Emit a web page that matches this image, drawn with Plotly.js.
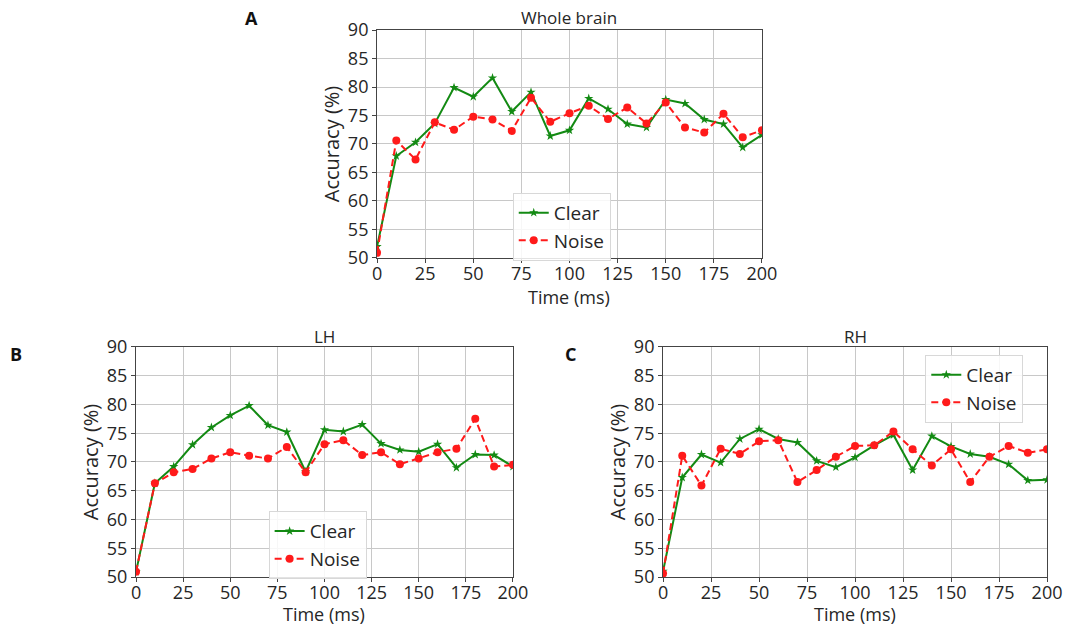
<!DOCTYPE html>
<html>
<head>
<meta charset="utf-8">
<script src="https://cdn.plot.ly/plotly-3.0.1.min.js"></script>
<style>html,body{margin:0;padding:0;background:#fff;}</style>
</head>
<body>
<div id="chart" style="width:1066px;height:628px;"></div>
<script>
const time = [0,10,20,30,40,50,60,70,80,90,100,110,120,130,140,150,160,170,180,190,200];

const wholeClear = [52,67.9,70.3,73.6,79.9,78.3,81.6,75.7,79.1,71.4,72.4,78.0,76.1,73.5,72.9,77.8,77.1,74.3,73.5,69.4,71.6];
const wholeNoise = [50.9,70.6,67.3,73.8,72.5,74.8,74.3,72.3,78.1,73.9,75.4,76.7,74.4,76.4,73.6,77.3,72.9,72.0,75.3,71.2,72.4];

const lhClear = [50.9,66.3,69.2,73.0,76.0,78.1,79.8,76.4,75.2,68.3,75.6,75.3,76.5,73.2,72.1,71.8,73.1,69.0,71.3,71.2,69.2];
const lhNoise = [50.9,66.3,68.2,68.8,70.6,71.7,71.1,70.6,72.6,68.2,73.1,73.8,71.2,71.7,69.6,70.6,71.7,72.3,77.5,69.2,69.5];

const rhClear = [51,67.3,71.3,69.9,74.0,75.7,74.0,73.4,70.2,69.1,70.8,72.9,74.7,68.6,74.5,72.7,71.4,70.9,69.6,66.8,66.9];
const rhNoise = [50.6,71.1,65.9,72.3,71.4,73.6,73.8,66.5,68.6,70.9,72.8,72.9,75.3,72.2,69.4,72.2,66.5,70.9,72.8,71.6,72.2];

const seriesNames = ['Clear','Noise'];
const panelTitles = ['Whole brain','LH','RH'];
const panelLetters = ['A','B','C'];
const xTitle = 'Time (ms)';
const yTitle = 'Accuracy (%)';

const green = '#138a13';
const red = '#ff1a1a';
const font = 'Open Sans, Noto Sans, sans-serif';
const txt = '#262626';

function clearTrace(y, xa, ya, lg) {
  return {x: time, y: y, xaxis: xa, yaxis: ya, legend: lg, name: seriesNames[0],
    mode: 'lines+markers', line: {color: green, width: 2},
    marker: {symbol: 'star', size: 7, color: green}};
}
function noiseTrace(y, xa, ya, lg) {
  return {x: time, y: y, xaxis: xa, yaxis: ya, legend: lg, name: seriesNames[1],
    mode: 'lines+markers', line: {color: red, width: 2, dash: '7px,4px'},
    marker: {symbol: 'circle', size: 8, color: red}};
}

const data = [
  clearTrace(wholeClear, 'x', 'y', 'legend'),
  noiseTrace(wholeNoise, 'x', 'y', 'legend'),
  clearTrace(lhClear, 'x2', 'y2', 'legend2'),
  noiseTrace(lhNoise, 'x2', 'y2', 'legend2'),
  clearTrace(rhClear, 'x3', 'y3', 'legend3'),
  noiseTrace(rhNoise, 'x3', 'y3', 'legend3')
];

function xaxis(domain, anchor) {
  return {domain: domain, anchor: anchor, range: [0,200], dtick: 25, tick0: 0,
    showgrid: true, gridcolor: '#c8c8c8', gridwidth: 1,
    showline: true, linecolor: '#444', linewidth: 1, mirror: true,
    ticks: 'outside', ticklen: 4, tickcolor: '#444', ticklabelstandoff: -5,
    tickfont: {family: font, size: 18, color: txt},
    zeroline: false, fixedrange: true};
}
function yaxis(domain, anchor) {
  return {domain: domain, anchor: anchor, range: [50,90], dtick: 5, tick0: 50,
    showgrid: true, gridcolor: '#c8c8c8', gridwidth: 1,
    showline: true, linecolor: '#444', linewidth: 1, mirror: true,
    ticks: 'outside', ticklen: 4, tickcolor: '#444',
    tickfont: {family: font, size: 18, color: txt},
    title: {text: yTitle, font: {family: font, size: 20, color: txt}, standoff: 2},
    zeroline: false, fixedrange: true};
}

function legendCfg(x, y) {
  return {x: x, y: y, xanchor: 'left', yanchor: 'top', xref: 'paper', yref: 'paper',
    bgcolor: 'rgba(255,255,255,0.85)', bordercolor: '#d8d8d8', borderwidth: 1,
    font: {family: font, size: 19, color: txt}, tracegroupgap: 0};
}

function textAnn(text, x, y, size, anchorY) {
  return {text: text, xref: 'paper', yref: 'paper', x: x, y: y, xanchor: 'center', yanchor: anchorY,
    showarrow: false, font: {family: font, size: size, color: txt}};
}

const layout = {
  width: 1066, height: 628,
  margin: {l: 0, r: 0, t: 0, b: 0},
  paper_bgcolor: '#fff', plot_bgcolor: '#fff',
  showlegend: true,
  xaxis: xaxis([0.3537, 0.7148], 'y'),
  yaxis: yaxis([0.5892, 0.9522], 'x'),
  xaxis2: xaxis([0.1276, 0.4812], 'y2'),
  yaxis2: yaxis([0.0812, 0.4475], 'x2'),
  xaxis3: xaxis([0.6220, 0.9822], 'y3'),
  yaxis3: yaxis([0.0812, 0.4475], 'x3'),
  legend: legendCfg(0.481, 0.693),
  legend2: legendCfg(0.252, 0.186),
  legend3: legendCfg(0.868, 0.435),
  annotations: [
    textAnn(panelTitles[0], 0.5342, 1 - 18/628, 17, 'middle'),
    textAnn(panelTitles[1], 0.3044, 1 - 336/628, 17, 'middle'),
    textAnn(panelTitles[2], 0.8021, 1 - 336/628, 17, 'middle'),
    textAnn(xTitle, 0.5342, 1 - 297/628, 18, 'middle'),
    textAnn(xTitle, 0.3044, 1 - 614/628, 18, 'middle'),
    textAnn(xTitle, 0.8021, 1 - 614/628, 18, 'middle'),
    {text: '<b>' + panelLetters[0] + '</b>', xref: 'paper', yref: 'paper', x: 251/1066, y: 1 - 18/628, xanchor: 'center', yanchor: 'middle', showarrow: false, font: {family: font, size: 18, color: '#111'}},
    {text: '<b>' + panelLetters[1] + '</b>', xref: 'paper', yref: 'paper', x: 16/1066, y: 1 - 354/628, xanchor: 'center', yanchor: 'middle', showarrow: false, font: {family: font, size: 18, color: '#111'}},
    {text: '<b>' + panelLetters[2] + '</b>', xref: 'paper', yref: 'paper', x: 570/1066, y: 1 - 354/628, xanchor: 'center', yanchor: 'middle', showarrow: false, font: {family: font, size: 18, color: '#111'}}
  ]
};

Plotly.newPlot('chart', data, layout, {staticPlot: true, displayModeBar: false});
</script>
</body>
</html>
